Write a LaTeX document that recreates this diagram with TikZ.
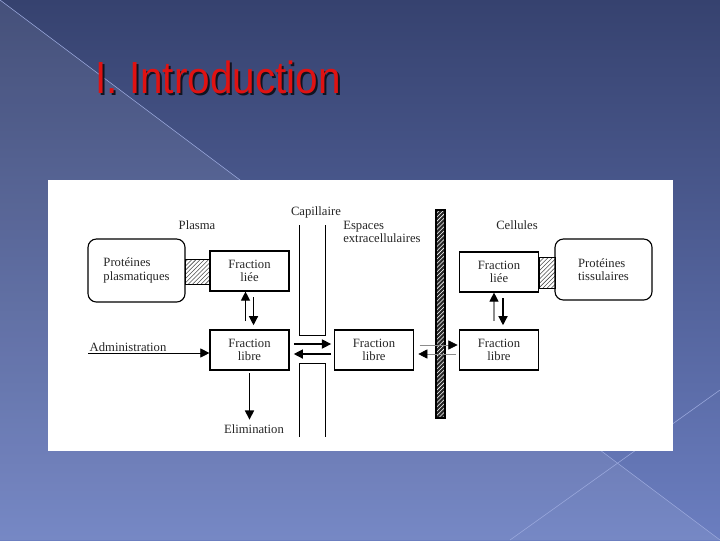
\documentclass[tikz,border=0pt]{standalone}
\usepackage{fontspec}
\setmainfont{Liberation Serif}
\newfontfamily\titlefont[FakeStretch=0.9]{Liberation Sans}
\usepackage{xcolor}
\usetikzlibrary{arrows.meta, patterns, positioning}

\definecolor{slidetop}{HTML}{36426F}
\definecolor{slidebot}{HTML}{6B7EC0}
\definecolor{slideline}{HTML}{9AA8DC}
\definecolor{titlered}{HTML}{E01212}

\tikzset{
  txt/.style={font=\fontsize{9}{9.5}\selectfont, text=black!85},
  fbox/.style={txt, draw, line width=0.8pt, align=center, minimum width=1.975cm, minimum height=1cm, inner sep=1pt},
  prot/.style={txt, draw, line width=0.8pt, rounded corners=6pt, align=left, inner sep=1pt},
  hatch/.style={draw, line width=0.6pt, pattern=north east lines, pattern color=black!70, inner sep=0pt},
  arr/.style={line width=0.9pt, -{Triangle[length=6.5pt,width=6.5pt]}},
  thinarr/.style={line width=0.5pt, draw=black!45, -{Triangle[length=6.5pt,width=6.5pt, color=black]}},
}

\begin{document}
\begin{tikzpicture}[x=0.025cm, y=-0.025cm]
\useasboundingbox (0,0) rectangle (720,540);
% slide background
\shade[top color=slidetop, bottom color=slidebot] (0,0) rectangle (720,540);
\fill[white, opacity=0.08] (0,0) -- (720,540) -- (0,540) -- cycle;
\draw[slideline, line width=0.4pt] (0,0) -- (720,540);
\draw[slideline, line width=0.4pt] (720,390) -- (510,540);

% title
\node[anchor=base west, inner sep=0pt, text=black!70!slidetop] at (97,95) {\titlefont\fontsize{32}{32}\selectfont I. Introduction};
\node[anchor=base west, inner sep=0pt, text=titlered] (title) at (95,93) {\titlefont\fontsize{32}{32}\selectfont I. Introduction};

% picture
\fill[white] (48,180) rectangle (673,451);

% plasma side
\node[txt] (plasma) at (197,225) {Plasma};
\node[prot, minimum width=2.425cm, minimum height=1.575cm] (protP) at (136.5,270.5) {Protéines\\plasmatiques};
\node[hatch, minimum width=0.625cm, minimum height=0.625cm] (linkP) at (197.5,271.5) {};
\node[fbox] (lieeP) at (249.5,271) {Fraction\\liée};
\node[fbox] (libreP) at (249.5,350) {Fraction\\libre};
\draw[arr, shorten <=6pt] ([xshift=-0.1cm]libreP.north) -- ([xshift=-0.1cm]lieeP.south);
\draw[arr, shorten <=4pt, shorten >=3pt] ([xshift=0.1cm]lieeP.south) -- ([xshift=0.1cm]libreP.north);

\coordinate (admin) at (88,353);
\node[txt, anchor=south west, inner sep=1pt] (adminlbl) at (admin) {Administration};
\draw[line width=0.6pt, -{Triangle[length=6.5pt,width=6.5pt]}] (admin) -- (libreP.west |- admin);

\node[txt] (elim) at (254,429) {Elimination};
\draw[arr, shorten <=2pt] (libreP.south) -- (libreP.south |- elim.north);

% capillary
\node[txt] (capil) at (316,212) {Capillaire};
\draw[line width=0.6pt] (299,225) -- (299,335) -- (325,335) -- (325,225);
\draw[line width=0.6pt] (299,437) -- (299,363) -- (325,363) -- (325,437);

\node[txt, anchor=north west, align=left, inner sep=0pt] (espaces) at (343,221) {Espaces\\extracellulaires};
\node[fbox] (libreE) at (374,350) {Fraction\\libre};
\draw[arr, shorten <=3pt, shorten >=2pt] ([yshift=0.15cm]libreP.east) -- ([yshift=0.15cm]libreE.west);
\draw[arr, shorten <=2pt, shorten >=3pt] ([yshift=-0.1cm]libreE.west) -- ([yshift=-0.1cm]libreP.east);

% cell membrane
\node[hatch, line width=0.8pt, minimum width=0.225cm, minimum height=5.2cm, preaction={fill=black!85}, pattern color=white] (wall) at (440.5,314) {};

% cell side
\node[txt] (cellules) at (517,225) {Cellules};
\node[fbox] (libreC) at (499,350) {Fraction\\libre};
\node[fbox] (lieeC) at (499,272) {Fraction\\liée};
\node[hatch, minimum width=0.4cm, minimum height=0.775cm] (linkC) at (547,272.5) {};
\node[prot, minimum width=2.425cm, minimum height=1.525cm] (protT) at (603.5,269.5) {Protéines\\tissulaires};
\draw[thinarr, shorten <=4pt, shorten >=1pt] ([yshift=0.125cm]libreE.east) -- ([yshift=0.125cm]libreC.west);
\draw[thinarr, shorten <=2pt, shorten >=3pt] ([yshift=-0.1cm]libreC.west) -- ([yshift=-0.1cm]libreE.east);
\draw[thinarr, line width=0.8pt, shorten <=6pt] ([xshift=-0.125cm]libreC.north) -- ([xshift=-0.125cm]lieeC.south);
\draw[arr, shorten <=4pt, shorten >=3pt] ([xshift=0.1cm]lieeC.south) -- ([xshift=0.1cm]libreC.north);
\end{tikzpicture}
\end{document}
